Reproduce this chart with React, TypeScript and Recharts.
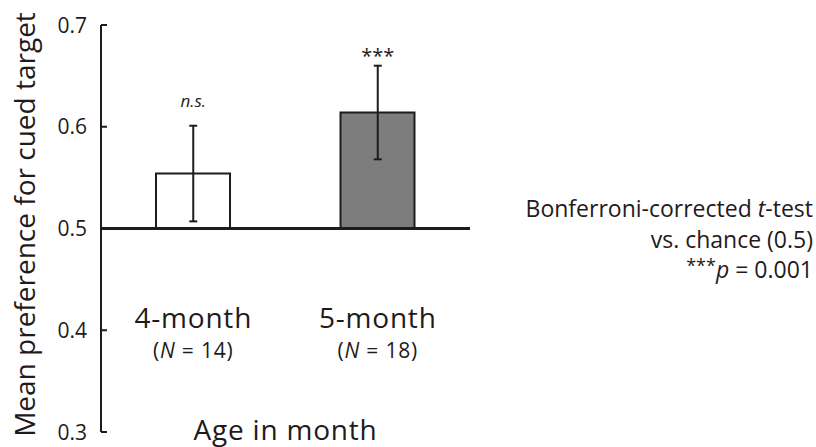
import { ComposedChart, Bar, Scatter, ErrorBar, XAxis, YAxis, ReferenceLine, Label, Cell } from "recharts";

const ages = ["4-month", "5-month"];
const sampleSizes = [14, 18];
const means = [0.554, 0.614];
const sems = [0.047, 0.046];
const sigLabels = ["n.s.", "***"];
const barFills = ["#ffffff", "#7d7d7d"];
const chance = 0.5;
const yTicks = [0.3, 0.4, 0.5, 0.6, 0.7];

const data = ages.map((age, i) => ({
  age,
  n: sampleSizes[i],
  range: [chance, means[i]],
  mean: means[i],
  sem: sems[i],
  top: means[i] + sems[i],
  sig: sigLabels[i],
}));

const FONT = "'Open Sans', sans-serif";
const INK = "#1f1b1c";

const YTick = (props: any) => {
  const { x, y, payload } = props;
  return (
    <g>
      <line x1={x + 14} x2={x + 20} y1={y} y2={y} stroke={INK} strokeWidth={2} />
      <text x={x} y={y} dy="0.36em" textAnchor="end" fontSize={21} fontFamily={FONT} fill={INK}>
        {payload.value.toFixed(1)}
      </text>
    </g>
  );
};

const XTick = (props: any) => {
  const { x, y, payload } = props;
  const row = data.find((d) => d.age === payload.value);
  return (
    <g fontFamily={FONT} fill={INK} textAnchor="middle">
      <text x={x} y={y - 104} fontSize={28} letterSpacing={0.8}>{payload.value}</text>
      <text x={x} y={y - 74} fontSize={21} letterSpacing={0.8}>
        (<tspan fontStyle="italic">N</tspan> = {row?.n})
      </text>
    </g>
  );
};

const SigMark = (props: any) => {
  const { cx, cy, payload } = props;
  const stars = payload.sig.startsWith("*");
  return (
    <text
      x={cx}
      y={cy - (stars ? 3 : 19)}
      textAnchor="middle"
      fontSize={stars ? 20 : 17}
      fontStyle={stars ? "normal" : "italic"}
      fontFamily={FONT}
      fill={INK}
    >
      {payload.sig}
    </text>
  );
};

export default function App() {
  return (
    <div style={{ position: "absolute", left: 0, top: 0, width: 816, height: 447, background: "#fff" }}>
      <ComposedChart width={816} height={447} data={data} margin={{ top: 25, right: 346, bottom: 0, left: 1 }}>
        <XAxis
          dataKey="age"
          height={15}
          axisLine={false}
          tickLine={false}
          tickSize={0}
          tickMargin={0}
          interval={0}
          tick={XTick}
        >
          <Label
            content={({ viewBox }: any) => (
              <text
                x={viewBox.x + viewBox.width / 2}
                y={viewBox.y + viewBox.height - 7}
                textAnchor="middle"
                fontSize={28}
                letterSpacing={0.8}
                fontFamily={FONT}
                fill={INK}
              >
                Age in month
              </text>
            )}
          />
        </XAxis>
        <YAxis
          type="number"
          domain={[0.3, 0.7]}
          ticks={yTicks}
          width={100}
          allowDataOverflow
          axisLine={{ stroke: INK, strokeWidth: 2 }}
          tickLine={false}
          tickSize={0}
          tickMargin={14}
          tick={YTick}
        >
          <Label
            content={({ viewBox }: any) => {
              const lx = viewBox.x + 34;
              const ly = viewBox.y + viewBox.height / 2 - 4;
              return (
                <text
                  x={lx}
                  y={ly}
                  transform={`rotate(-90, ${lx}, ${ly})`}
                  textAnchor="middle"
                  fontSize={28}
                  fontFamily={FONT}
                  fill={INK}
                >
                  Mean preference for cued target
                </text>
              );
            }}
          />
        </YAxis>
        <Bar dataKey="range" barSize={74} stroke={INK} strokeWidth={2} isAnimationActive={false}>
          {data.map((d, i) => (
            <Cell key={d.age} fill={barFills[i]} />
          ))}
        </Bar>
        <ReferenceLine y={chance} stroke={INK} strokeWidth={3} />
        <Scatter dataKey="mean" shape={() => <g />} isAnimationActive={false}>
          <ErrorBar dataKey="sem" direction="y" width={4} stroke={INK} strokeWidth={2} isAnimationActive={false} />
        </Scatter>
        <Scatter dataKey="top" shape={SigMark} isAnimationActive={false} />
      </ComposedChart>
      <svg width={816} height={447} style={{ position: "absolute", left: 0, top: 0, pointerEvents: "none" }}>
        <g fontFamily={FONT} fontSize={23} fill={INK} textAnchor="end">
          <text x={813} y={217}>
            Bonferroni-corrected <tspan fontStyle="italic">t</tspan>-test
          </text>
          <text x={813} y={248}>vs. chance (0.5)</text>
          <text x={813} y={278}>
            <tspan fontSize={18} dy={-6}>***</tspan>
            <tspan fontStyle="italic" dy={6}>p</tspan> = 0.001
          </text>
        </g>
      </svg>
    </div>
  );
}
